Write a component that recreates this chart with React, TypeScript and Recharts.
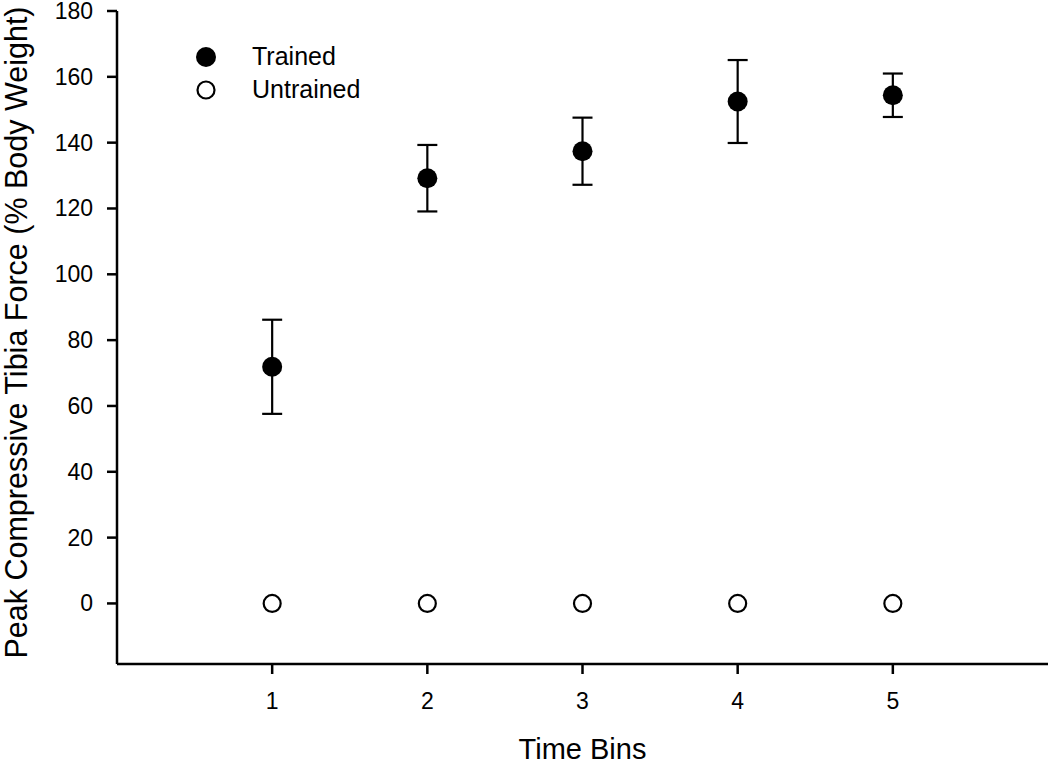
import { ScatterChart, Scatter, XAxis, YAxis, ErrorBar, Label } from 'recharts';

const timeBins = [1, 2, 3, 4, 5];
const trainedForce = [71.9, 129.2, 137.4, 152.5, 154.4];
const trainedErr = [14.3, 10.1, 10.2, 12.6, 6.6];
const untrainedForce = [0, 0, 0, 0, 0];
const yTicks = [0, 20, 40, 60, 80, 100, 120, 140, 160, 180];
const xTicks = [1, 2, 3, 4, 5];
const seriesNames = ['Trained', 'Untrained'];

const FONT = '"Liberation Sans", Arial, Helvetica, sans-serif';

const trainedData = timeBins.map((bin, i) => ({ bin, force: trainedForce[i], err: trainedErr[i] }));
const untrainedData = timeBins.map((bin, i) => ({ bin, force: untrainedForce[i] }));

const FilledDot = (props: any) => <circle cx={props.cx} cy={props.cy} r={10} fill="#000" />;
const OpenDot = (props: any) => (
  <circle cx={props.cx} cy={props.cy} r={8.5} fill="#fff" stroke="#000" strokeWidth={2.2} />
);

const XTick = (props: any) => (
  <text x={props.x} y={props.y + 23} textAnchor="middle" fontFamily={FONT} fontSize={23} fill="#000">
    {props.payload.value}
  </text>
);

const YTick = (props: any) => (
  <text x={props.x} y={props.y} dy={8} textAnchor="end" fontFamily={FONT} fontSize={23} fill="#000">
    {props.payload.value}
  </text>
);

// legend sits over the plot, so it is drawn outside the chart layout
const LegendBox = () => (
  <div style={{ position: 'absolute', left: 194, top: 40, fontFamily: FONT, fontSize: 25, color: '#000' }}>
    {seriesNames.map((name, i) => (
      <div key={name} style={{ display: 'flex', alignItems: 'center', height: 33 }}>
        <svg width={24} height={24} style={{ marginRight: 34 }}>
          {i === 0 ? (
            <circle cx={12} cy={12} r={10} fill="#000" />
          ) : (
            <circle cx={12} cy={12} r={8.5} fill="#fff" stroke="#000" strokeWidth={2.2} />
          )}
        </svg>
        <span>{name}</span>
      </div>
    ))}
  </div>
);

const YLabel = (props: any) => {
  const vb = props.viewBox;
  const cx = 16;
  const cy = vb.y + vb.height / 2 - 5;
  return (
    <text
      x={cx}
      y={cy}
      transform={`rotate(-90 ${cx} ${cy})`}
      textAnchor="middle"
      dominantBaseline="central"
      fontFamily={FONT}
      fontSize={30.5}
      fill="#000"
    >
      Peak Compressive Tibia Force (% Body Weight)
    </text>
  );
};

const XLabel = (props: any) => {
  const vb = props.viewBox;
  return (
    <text x={vb.x + vb.width / 2} y={759} textAnchor="middle" fontFamily={FONT} fontSize={29} fill="#000">
      Time Bins
    </text>
  );
};

export default function App() {
  return (
    <div style={{ position: 'absolute', left: 0, top: 0, width: 1050, height: 766, background: '#fff' }}>
      <ScatterChart width={1050} height={766} margin={{ top: 11, right: 2, bottom: 0, left: 0 }}>
        <XAxis
          type="number"
          dataKey="bin"
          domain={[0, 6]}
          ticks={xTicks}
          height={102}
          stroke="#000"
          strokeWidth={2.5}
          tickSize={10}
          tickMargin={12}
          tick={<XTick />}
        >
          <Label content={<XLabel />} />
        </XAxis>
        <YAxis
          type="number"
          dataKey="force"
          domain={[-18.4, 180]}
          ticks={yTicks}
          allowDataOverflow
          width={117}
          stroke="#000"
          strokeWidth={2.5}
          tickSize={10}
          tickMargin={14}
          tick={<YTick />}
        >
          <Label content={<YLabel />} />
        </YAxis>
        <Scatter name="Untrained" data={untrainedData} shape={<OpenDot />} isAnimationActive={false} />
        <Scatter name="Trained" data={trainedData} shape={<FilledDot />} isAnimationActive={false}>
          <ErrorBar dataKey="err" direction="y" width={10} stroke="#000" strokeWidth={2.2} />
        </Scatter>
      </ScatterChart>
      <LegendBox />
    </div>
  );
}
